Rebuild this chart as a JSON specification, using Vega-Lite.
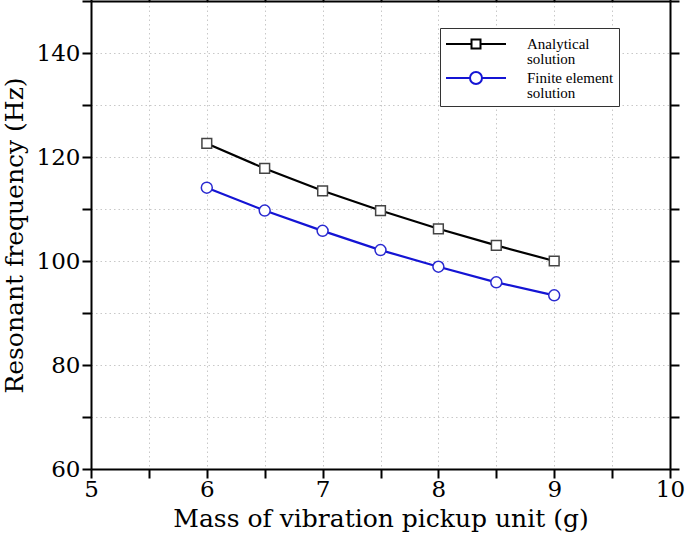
{
  "$schema": "https://vega.github.io/schema/vega-lite/v6.json",
  "width": 579,
  "height": 468,
  "autosize": "none",
  "padding": {"left": 91, "top": 1, "right": 15, "bottom": 74},
  "background": "white",
  "config": {
    "view": {"stroke": null},
    "font": "DejaVu Serif"
  },
  "data": {
    "values": [
      {"series": "Analytical solution", "mass": 6.0, "freq": 122.6},
      {"series": "Analytical solution", "mass": 6.5, "freq": 117.8},
      {"series": "Analytical solution", "mass": 7.0, "freq": 113.5},
      {"series": "Analytical solution", "mass": 7.5, "freq": 109.7},
      {"series": "Analytical solution", "mass": 8.0, "freq": 106.2},
      {"series": "Analytical solution", "mass": 8.5, "freq": 103.0},
      {"series": "Analytical solution", "mass": 9.0, "freq": 100.0},
      {"series": "Finite element solution", "mass": 6.0, "freq": 114.1},
      {"series": "Finite element solution", "mass": 6.5, "freq": 109.7},
      {"series": "Finite element solution", "mass": 7.0, "freq": 105.8},
      {"series": "Finite element solution", "mass": 7.5, "freq": 102.1},
      {"series": "Finite element solution", "mass": 8.0, "freq": 98.9},
      {"series": "Finite element solution", "mass": 8.5, "freq": 95.9},
      {"series": "Finite element solution", "mass": 9.0, "freq": 93.4}
    ]
  },
  "layer": [
    {
      "mark": {"type": "line", "strokeWidth": 2.2},
      "encoding": {
        "x": {
          "field": "mass", "type": "quantitative",
          "scale": {"domain": [5, 10], "nice": false, "zero": false},
          "axis": {
            "orient": "bottom",
            "values": [5, 5.5, 6, 6.5, 7, 7.5, 8, 8.5, 9, 9.5, 10],
            "labelExpr": "datum.value % 1 === 0 ? format(datum.value, 'd') : ''",
            "labelFontSize": 23, "labelColor": "black", "labelPadding": 0,
            "labelFlush": false,
            "domainColor": "black", "domainWidth": 2,
            "tickColor": "black", "tickWidth": 2, "tickSize": 9,
            "encode": {"ticks": {"y2": {"condition": {"test": "datum.value % 1 === 0", "value": -9}, "value": -5}}},
            "grid": true, "gridColor": "#c8c8c8", "gridDash": [1.5, 3], "gridWidth": 1,
            "title": "Mass of vibration pickup unit (g)",
            "titleFontSize": 25, "titleFontWeight": "normal", "titleColor": "black", "titlePadding": 5
          }
        },
        "y": {
          "field": "freq", "type": "quantitative",
          "scale": {"domain": [60, 150], "nice": false, "zero": false},
          "axis": {
            "orient": "left",
            "values": [60, 70, 80, 90, 100, 110, 120, 130, 140, 150],
            "labelExpr": "datum.value % 20 === 0 && datum.value < 150 ? format(datum.value, 'd') : ''",
            "labelFontSize": 23, "labelColor": "black", "labelPadding": 2,
            "labelFlush": false,
            "domainColor": "black", "domainWidth": 2,
            "tickColor": "black", "tickWidth": 2, "tickSize": 9,
            "encode": {"ticks": {"x2": {"condition": {"test": "datum.value % 20 === 0", "value": 9}, "value": 5}}},
            "grid": true, "gridColor": "#c8c8c8", "gridDash": [1.5, 3], "gridWidth": 1,
            "title": "Resonant frequency (Hz)",
            "titleFontSize": 25, "titleFontWeight": "normal", "titleColor": "black", "titlePadding": 9
          }
        },
        "color": {
          "field": "series", "type": "nominal",
          "scale": {"domain": ["Analytical solution", "Finite element solution"], "range": ["#000000", "#1414d4"]},
          "legend": {
            "orient": "none", "legendX": 349, "legendY": 27,
            "title": null,
            "strokeColor": "#333333", "fillColor": "white",
            "padding": 5,
            "symbolSize": 400,
            "symbolOffset": 20,
            "symbolStrokeWidth": 2.2,
            "labelFont": "Liberation Serif",
            "labelFontSize": 15, "labelColor": "black", "labelOffset": 40,
            "labelLimit": 300,
            "rowPadding": 0,
            "labelExpr": "datum.label === 'Analytical solution' ? ['Analytical', 'solution'] : ['Finite element', 'solution']",
            "encode": {
              "symbols": {"update": {
                "shape": {"signal": "datum.value === 'Analytical solution' ? 'M-3,0H-0.45M0.45,0H3M-0.45,-0.45H0.45V0.45H-0.45Z' : 'M-3,0H-0.6M0.6,0H3M-0.6,0A0.6,0.6 0 1,0 0.6,0A0.6,0.6 0 1,0 -0.6,0Z'"},
                "fill": {"value": "white"},
                "fillOpacity": {"value": 1},
                "strokeWidth": {"value": 2}
              }},
              "labels": {"update": {"lineHeight": {"value": 15}}}
            }
          }
        }
      }
    },
    {
      "mark": {"type": "point", "filled": false, "fill": "white", "fillOpacity": 1, "strokeWidth": 1.5},
      "encoding": {
        "x": {
          "field": "mass", "type": "quantitative",
          "axis": {
            "orient": "top", "labels": false, "domain": true, "grid": false, "title": null,
            "domainColor": "black", "domainWidth": 2,
            "values": [5, 5.5, 6, 6.5, 7, 7.5, 8, 8.5, 9, 9.5, 10],
            "tickColor": "black", "tickWidth": 2, "tickSize": 9,
            "encode": {"ticks": {"y2": {"condition": {"test": "datum.value % 1 === 0", "value": 9}, "value": 5}}}
          }
        },
        "y": {
          "field": "freq", "type": "quantitative",
          "axis": {
            "orient": "right", "labels": false, "domain": true, "grid": false, "title": null,
            "domainColor": "black", "domainWidth": 2,
            "values": [60, 70, 80, 90, 100, 110, 120, 130, 140, 150],
            "tickColor": "black", "tickWidth": 2, "tickSize": 9,
            "encode": {"ticks": {"x2": {"condition": {"test": "datum.value % 20 === 0", "value": -9}, "value": -5}}}
          }
        },
        "shape": {
          "field": "series", "type": "nominal",
          "scale": {"domain": ["Analytical solution", "Finite element solution"], "range": ["square", "circle"]},
          "legend": null
        },
        "stroke": {
          "field": "series", "type": "nominal",
          "scale": {"domain": ["Analytical solution", "Finite element solution"], "range": ["#444444", "#2a2ad0"]},
          "legend": null
        },
        "size": {
          "field": "series", "type": "nominal",
          "scale": {"domain": ["Analytical solution", "Finite element solution"], "range": [95, 120]},
          "legend": null
        }
      }
    }
  ],
  "resolve": {"axis": {"x": "independent", "y": "independent"}, "scale": {"stroke": "independent", "color": "independent"}}
}
